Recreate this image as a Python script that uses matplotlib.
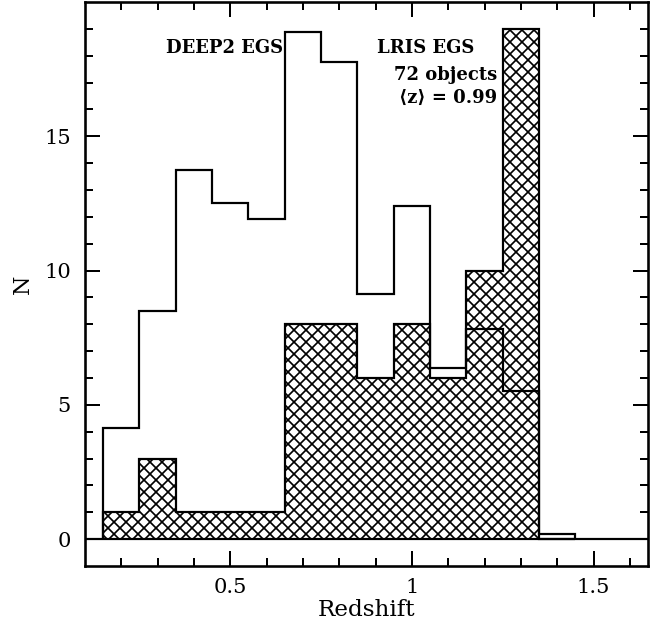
import numpy as np
import matplotlib
matplotlib.use('Agg')
import matplotlib.pyplot as plt

# redshift bins (width 0.1)
edges = np.round(np.arange(0.15, 1.46, 0.1), 2)
# LRIS EGS counts per bin, 72 objects in total
lris = [1, 3, 1, 1, 1, 8, 8, 6, 8, 6, 10, 19, 0]
# DEEP2 EGS distribution, scaled
deep2 = [4.15, 8.5, 13.74, 12.53, 11.93, 18.88, 17.77, 9.13, 12.40, 6.36, 7.84, 5.53, 0.21]

plt.rcParams['font.family'] = ['DejaVu Serif', 'DejaVu Sans']
plt.rcParams['hatch.linewidth'] = 1.7
plt.rcParams['hatch.color'] = 'black'

fig = plt.figure(figsize=(670 / 72, 630 / 72), dpi=72)
ax = fig.add_axes([85 / 670, 64 / 630, 563 / 670, 564 / 630])

ax.stairs(lris, edges, fill=True, facecolor='white', edgecolor='black',
          hatch='xx', linewidth=2.2, zorder=2)
ax.stairs(deep2, edges, fill=False, color='black', linewidth=2.2, zorder=3)
ax.axhline(0, color='black', linewidth=2.2, zorder=4)

ax.set_xlim(0.1, 1.65)
ax.set_ylim(-1, 20)
ax.set_xticks([0.5, 1.0, 1.5])
ax.set_xticklabels(['0.5', '1', '1.5'])
ax.set_xticks(np.arange(0.2, 1.65, 0.1), minor=True)
ax.set_yticks([0, 5, 10, 15])
ax.set_yticks(np.arange(0, 20, 1), minor=True)
ax.tick_params(which='both', direction='in', top=True, right=True,
               width=2, labelsize=21)
ax.tick_params(axis='x', pad=12)
ax.tick_params(axis='y', pad=14)
ax.tick_params(which='major', length=15)
ax.tick_params(which='minor', length=8)
for s in ax.spines.values():
    s.set_linewidth(2.6)

ax.set_xlabel('Redshift', fontsize=23, labelpad=2)
ax.set_ylabel('N', fontsize=22, labelpad=10)

ax.text(0.323, 18.27, 'DEEP2 EGS', fontsize=18, fontweight='bold', va='center', ha='left')
ax.text(0.904, 18.27, 'LRIS EGS', fontsize=18, fontweight='bold', va='center', ha='left')
ax.text(1.234, 17.27, '72 objects', fontsize=18, fontweight='bold', va='center', ha='right')
ax.text(1.234, 16.42, '\u27e8z\u27e9 = 0.99', fontsize=18, fontweight='bold', va='center', ha='right')

fig.savefig('out.png', dpi=72)
